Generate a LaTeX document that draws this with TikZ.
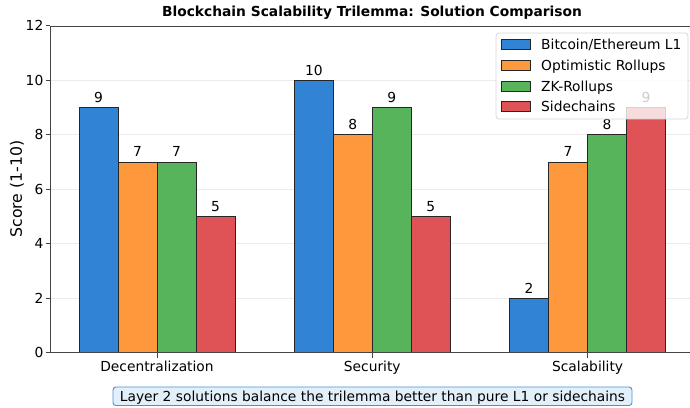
\documentclass[tikz,border=0pt]{standalone}
\usepackage{fontspec}
\setmainfont{DejaVu Sans}
\definecolor{cblue}{HTML}{3083D5}
\definecolor{corange}{HTML}{FD983C}
\definecolor{cgreen}{HTML}{57B45A}
\definecolor{cred}{HTML}{DF5256}
\definecolor{gridc}{HTML}{EBEBEB}
\definecolor{spinec}{HTML}{444444}
\definecolor{capfill}{HTML}{E3F0FA}
\definecolor{capdraw}{HTML}{4A90D9}
\tikzset{
  lbl/.style={font=\fontsize{13.8}{16}\selectfont, inner sep=0pt, text=black},
  barbox/.style={draw=black!85, line width=0.8pt},
  gridline/.style={draw=gridc, line width=0.9pt},
  spine/.style={draw=spinec, line width=0.9pt},
  legpatch/.style={draw=black!85, line width=0.8pt, minimum width=29pt, minimum height=10pt, inner sep=0pt},
}
\begin{document}
\begin{tikzpicture}[x=1pt,y=-1pt]
\useasboundingbox (0,0) rectangle (690,407);
% grid
\foreach \v in {2,4,...,10} {
  \draw[gridline] (50,{352.7-27.25*\v}) -- (690,{352.7-27.25*\v});
}
% bars
\foreach \g/\a/\b/\c/\d in {0/9/7/7/5,1/10/8/9/5,2/2/7/8/9} {
  \pgfmathsetmacro\cx{157+215.3*\g}
  \foreach \i/\v/\col in {0/\a/cblue,1/\b/corange,2/\c/cgreen,3/\d/cred} {
    \pgfmathsetmacro\xl{\cx-78+39*\i}
    \pgfmathsetmacro\yt{352.7-27.25*\v}
    \draw[barbox, fill=\col] (\xl,352.7) rectangle ({\xl+39},\yt);
    \node[lbl, anchor=base] (val\g\i) at ({\xl+19.5},{\yt-5}) {\v};
  }
}
% spines
\draw[spine] (690,26) -- (50,26) -- (50,352.7) -- (690,352.7);
% y ticks
\foreach \v in {0,2,...,12} {
  \draw[spine] (45.5,{352.7-27.25*\v}) -- (50,{352.7-27.25*\v});
  \node[lbl, anchor=base east] (yt\v) at (43.5,{352.7-27.25*\v+5}) {\v};
}
% x ticks
\foreach \g/\name in {0/Decentralization,1/Security,2/Scalability} {
  \pgfmathsetmacro\cx{157+215.3*\g}
  \draw[spine] (\cx,352.7) -- (\cx,357.5);
  \node[lbl, anchor=base] (xt\g) at (\cx,371) {\name};
}
% axis label and title
\node[font=\fontsize{15.7}{18}\selectfont, rotate=90, inner sep=0pt] (ylab) at (17,189) {Score (1-10)};
\node[font=\fontsize{13.8}{16}\selectfont\bfseries, anchor=base, inner sep=0pt] (title) at (372,16) {Blockchain Scalability Trilemma: Solution Comparison};
% legend
\node[draw=black!20, draw opacity=0.8, fill=white, fill opacity=0.8, rounded corners=3pt, line width=0.8pt,
      minimum width=192pt, minimum height=86pt, inner sep=0pt] (legend) at (592,76) {};
\foreach \i/\col/\txt/\yc in {0/cblue/Bitcoin\slash Ethereum L1/44,1/corange/Optimistic Rollups/65,2/cgreen/ZK-Rollups/86,3/cred/Sidechains/106} {
  \node[legpatch, fill=\col] (lp\i) at (515.5,\yc) {};
  \node[lbl, anchor=base west] (lt\i) at (541,{\yc+5}) {\txt};
}
% caption
\node[lbl, draw=capdraw, fill=capfill, rounded corners=3pt, line width=0.9pt, minimum width=519pt,
      text height=14.5pt, text depth=4pt, anchor=base] (cap) at (372.5,401.5)
  {Layer 2 solutions balance the trilemma better than pure L1 or sidechains};
\end{tikzpicture}
\end{document}
